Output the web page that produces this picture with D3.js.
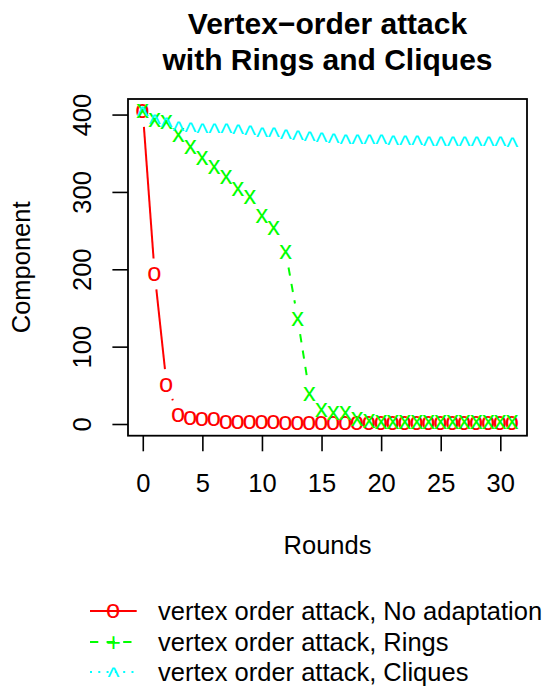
<!DOCTYPE html>
<html><head><meta charset="utf-8">
<script src="https://cdn.jsdelivr.net/npm/d3@7"></script>
<style>
html,body{margin:0;padding:0;background:#fff;}
text{font-family:"Liberation Sans",Arial,Helvetica,sans-serif;}
</style></head>
<body>
<script>
// ---- data ----
const rounds = [0,1,2,3,4,5,6,7,8,9,10,11,12,13,14,15,16,17,18,19,20,21,22,23,24,25,26,27,28,29,30,31];
const noAdaptation = [404,194,51,12,8,6,6,2,2,2,2,2,1,1,1,1,1,1,1,1,1,1,1,1,1,1,1,1,1,1,1,1];
const rings = [404,393,391,373,358,344,332,319,304,293,269,254,222,136,39,18,14,14,6,4,3,3,3,2,2,2,2,2,2,2,2,2];
const cliques = [404,394,390,385,384,383,382,382,381,380,378,377,375,374,372,371,370,369,369,368,368,367,367,367,366,366,366,366,366,366,366,365];
const xTicks = [0,5,10,15,20,25,30];
const yTicks = [0,100,200,300,400];
const titleLines = ["Vertex\u2212order attack","with Rings and Cliques"];
const xLabel = "Rounds";
const yLabel = "Component";
const legendLabels = ["vertex order attack, No adaptation","vertex order attack, Rings","vertex order attack, Cliques"];
const seriesColors = ["#FF0000","#00FF00","#00FFFF"];
const plotChars = ["o","x","^"];
const legendChars = ["o","+","^"];
const dashes = [null,"8.3,8.3","2,6.3"];

// ---- layout ----
const W=548,H=688;
const box={l:128,r:527,t:99,b:435.7};
const FONT=25.5;
const svg=d3.select("body").append("svg").attr("width",W).attr("height",H).style("display","block");

function ext(lo,hi){const d=(hi-lo)*0.04;return [lo-d,hi+d];}
const allY=noAdaptation.concat(rings,cliques);
const x=d3.scaleLinear().domain(ext(d3.min(rounds),d3.max(rounds))).range([box.l,box.r]);
const y=d3.scaleLinear().domain(ext(d3.min(allY),d3.max(allY))).range([box.b,box.t]);

// glyph centering via canvas ink metrics (R centres pch characters on their ink)
const cv=document.createElement("canvas").getContext("2d");
function glyph(ch,size){
  cv.font=size+'px "Liberation Sans"';
  const m=cv.measureText(ch);
  return {dx:(m.actualBoundingBoxRight-m.actualBoundingBoxLeft)/2,
          dy:(m.actualBoundingBoxAscent-m.actualBoundingBoxDescent)/2};
}

// title
svg.append("g").selectAll("text").data(titleLines).join("text")
  .attr("x",(box.l+box.r)/2).attr("y",(d,i)=>34+i*36)
  .attr("text-anchor","middle").attr("font-weight","bold").attr("font-size",30).text(d=>d);

// axes
const gx=svg.append("g").attr("transform",`translate(0,${box.b})`)
  .call(d3.axisBottom(x).tickValues(xTicks).tickSize(15.6).tickPadding(22.3).tickFormat(d3.format("d")));
gx.select(".domain").remove();
gx.selectAll("line").attr("stroke","#000").attr("stroke-width",1.6);
gx.selectAll("text").attr("font-size",FONT).attr("font-family",'"Liberation Sans",Arial,sans-serif').attr("fill","#000");

const gy=svg.append("g").attr("transform",`translate(${box.l},0)`)
  .call(d3.axisLeft(y).tickValues(yTicks).tickSize(15.6).tickFormat(d3.format("d")));
gy.select(".domain").remove();
gy.selectAll("line").attr("stroke","#000").attr("stroke-width",1.6);
gy.selectAll("text").attr("font-size",FONT).attr("font-family",'"Liberation Sans",Arial,sans-serif').attr("fill","#000")
  .attr("transform","rotate(-90)").attr("x",0).attr("y",-37).attr("dy",null).attr("text-anchor","middle");

// box
svg.append("rect").attr("x",box.l).attr("y",box.t).attr("width",box.r-box.l).attr("height",box.b-box.t)
  .attr("fill","none").attr("stroke","#000").attr("stroke-width",1.8);

// axis labels
svg.append("text").attr("x",(box.l+box.r)/2).attr("y",554).attr("text-anchor","middle").attr("font-size",FONT).text(xLabel);
svg.append("text").attr("transform",`translate(30,${(box.t+box.b)/2}) rotate(-90)`).attr("text-anchor","middle").attr("font-size",FONT).text(yLabel);

// series (type "b": points with gapped segments)
const series=[noAdaptation,rings,cliques];
const GAP=15.5;
series.forEach((vals,si)=>{
  const g=svg.append("g");
  const pts=rounds.map((r,i)=>[x(r),y(vals[i])]);
  for(let i=0;i<pts.length-1;i++){
    const [x1,y1]=pts[i],[x2,y2]=pts[i+1];
    const dx=x2-x1,dy=y2-y1,d=Math.hypot(dx,dy);
    if(d<=2*GAP) continue;
    const ux=dx/d,uy=dy/d;
    const ln=g.append("line").attr("x1",x1+ux*GAP).attr("y1",y1+uy*GAP).attr("x2",x2-ux*GAP).attr("y2",y2-uy*GAP)
      .attr("stroke",seriesColors[si]).attr("stroke-width",2);
    if(dashes[si]) ln.attr("stroke-dasharray",dashes[si]);
  }
  const o=glyph(plotChars[si],FONT);
  g.selectAll("text").data(pts).join("text")
    .attr("x",d=>d[0]-o.dx).attr("y",d=>d[1]+o.dy)
    .attr("font-size",FONT).attr("fill",seriesColors[si]).text(plotChars[si]);
});

// legend
const legY=[611,642,672];
const capHalf=0.716*FONT/2;
const lg=svg.append("g");
legendLabels.forEach((lab,i)=>{
  const ln=lg.append("line").attr("x1",90).attr("x2",136.7).attr("y1",legY[i]).attr("y2",legY[i])
    .attr("stroke",seriesColors[i]).attr("stroke-width",2);
  if(dashes[i]) ln.attr("stroke-dasharray",dashes[i]);
  const o=glyph(legendChars[i],FONT);
  lg.append("text").attr("x",113.4-o.dx).attr("y",legY[i]+o.dy).attr("font-size",FONT).attr("fill",seriesColors[i]).text(legendChars[i]);
  lg.append("text").attr("x",158).attr("y",legY[i]+capHalf).attr("font-size",FONT).attr("fill","#000").text(lab);
});
</script>
</body></html>
